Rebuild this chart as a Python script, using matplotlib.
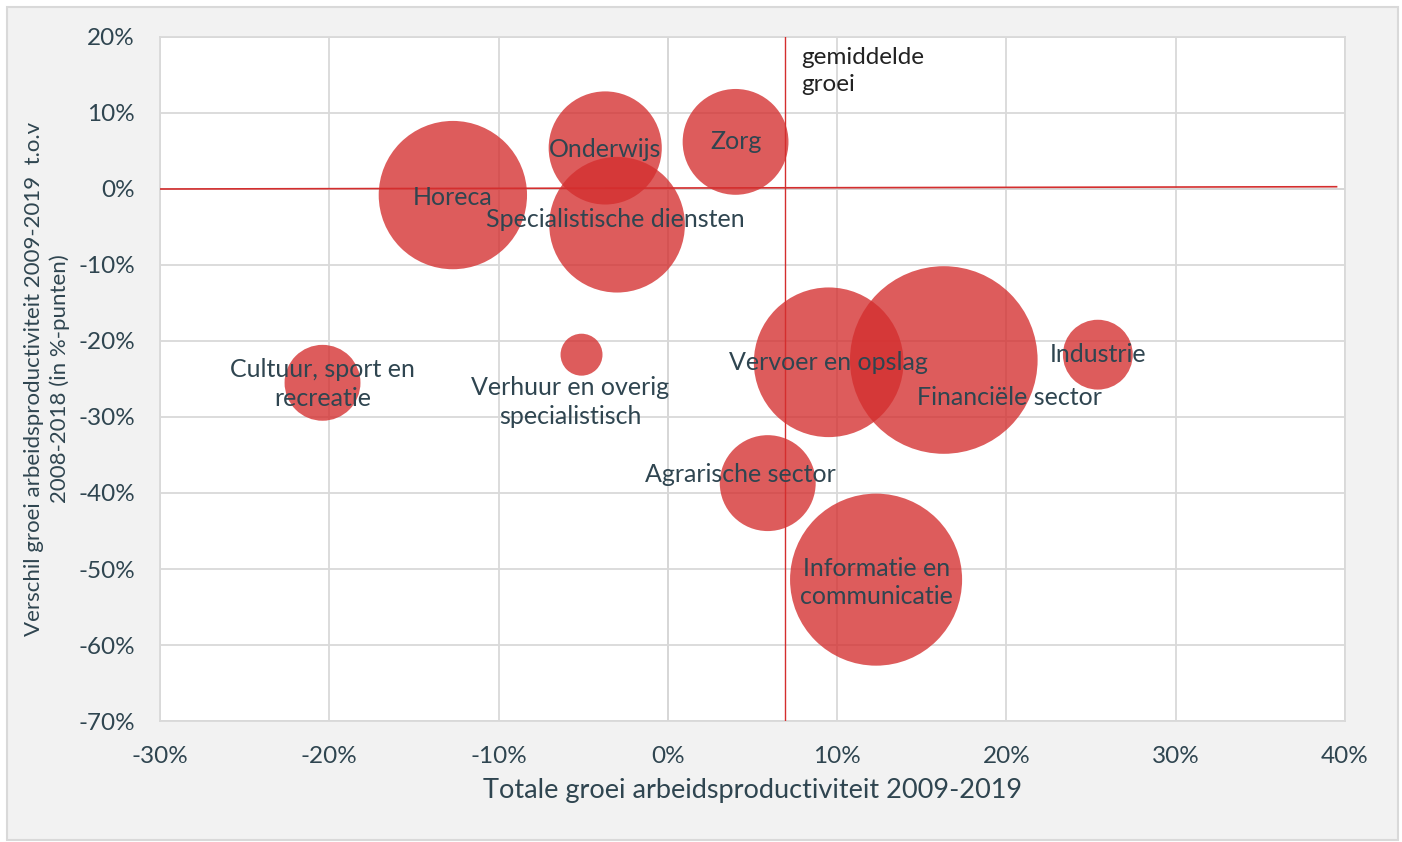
import matplotlib.pyplot as plt
import matplotlib.patches as mpatches
from matplotlib.ticker import FuncFormatter
import numpy as np

plt.rcParams['font.family'] = ['Lato', 'DejaVu Sans']

# sectoren
sectoren = ["Horeca", "Onderwijs", "Specialistische diensten", "Zorg",
            "Verhuur en overig\nspecialistisch", "Cultuur, sport en\nrecreatie",
            "Vervoer en opslag", "Financiële sector", "Industrie",
            "Agrarische sector", "Informatie en\ncommunicatie"]
totale_groei = [-12.7, -3.7, -3.0, 4.0, -5.1, -20.4, 9.5, 16.3, 25.4, 5.9, 12.3]
verschil_groei = [-0.8, 5.4, -4.7, 6.2, -21.8, -25.5, -22.8, -22.5, -21.8, -38.7, -51.4]
bubbel = [55, 32, 46, 28, 4.4, 14.4, 56, 88, 12.2, 23, 74]  # relatieve grootte

gemiddelde_groei = 6.9
trend_x = [-30, 39.5]
trend_y = [0.0, 0.3]

# label offsets in points (dx, dy) from bubble centre
label_offset = {
    "Onderwijs": (0, -1),
    "Specialistische diensten": (-1, 4),
    "Verhuur en overig\nspecialistisch": (-8, -34),
    "Financiële sector": (47, -27),
    "Agrarische sector": (-20, 6),
    "Informatie en\ncommunicatie": (0, -2),
    "Horeca": (0, -2),
    "Cultuur, sport en\nrecreatie": (0, -1),
}

TXT = '#2f4550'
fig = plt.figure(figsize=(14.02, 8.42), dpi=100, facecolor='white')
fig.patches.append(mpatches.Rectangle((7 / 1402, 2 / 842), 1391 / 1402, 833 / 842,
                                      transform=fig.transFigure, facecolor='#f2f2f2',
                                      edgecolor='#d9d9d9', linewidth=1.5, zorder=-10))
ax = fig.add_axes([160 / 1402, 1 - 721 / 842, 1185 / 1402, 684 / 842])
ax.set_facecolor('white')

ax.set_xlim(-30, 40)
ax.set_ylim(-70, 20)
ax.set_xticks(np.arange(-30, 41, 10))
ax.set_yticks(np.arange(-70, 21, 10))
pct = FuncFormatter(lambda v, p: f"{v:.0f}%")
ax.xaxis.set_major_formatter(pct)
ax.yaxis.set_major_formatter(pct)
ax.tick_params(length=0, labelsize=17.5, colors=TXT, pad=18)
ax.grid(True, color='#d9d9d9', linewidth=1.3, zorder=0)
ax.set_axisbelow(True)
for s in ax.spines.values():
    s.set_color('#d9d9d9')
    s.set_linewidth(1.3)
ax.axvline(0, color='#bfbfbf', linewidth=1.3, zorder=0.5)
ax.axhline(0, color='#bfbfbf', linewidth=1.3, zorder=0.5)

sizes = [(2 * np.sqrt(b) * 10 * 0.72) ** 2 for b in bubbel]
ax.scatter(totale_groei, verschil_groei, s=sizes, color='#d42e2e', alpha=0.78,
           edgecolors='none', zorder=2)

ax.plot(trend_x, trend_y, color='#d42e2e', linewidth=1.2, zorder=3)
ax.axvline(gemiddelde_groei, color='#d42e2e', linewidth=1.0, zorder=3)
ax.text(gemiddelde_groei + 1.0, 18.7, "gemiddelde\ngroei", fontsize=17.5, color='#222222',
        va='top', ha='left', linespacing=1.35)

for naam, x, y in zip(sectoren, totale_groei, verschil_groei):
    dx, dy = label_offset.get(naam, (0, 0))
    ax.annotate(naam, (x, y), xytext=(dx, dy), textcoords='offset points',
                ha='center', va='center', fontsize=18, color=TXT, zorder=4,
                linespacing=1.3)

ax.set_xlabel("Totale groei arbeidsproductiviteit 2009-2019", fontsize=19.5, color=TXT,
              labelpad=8)
ax.set_ylabel("Verschil groei arbeidsproductiviteit 2009-2019  t.o.v\n2008-2018 (in %-punten)",
              fontsize=16, color=TXT, labelpad=6, linespacing=1.35)

fig.savefig("out.png", dpi=100, facecolor=fig.get_facecolor())
